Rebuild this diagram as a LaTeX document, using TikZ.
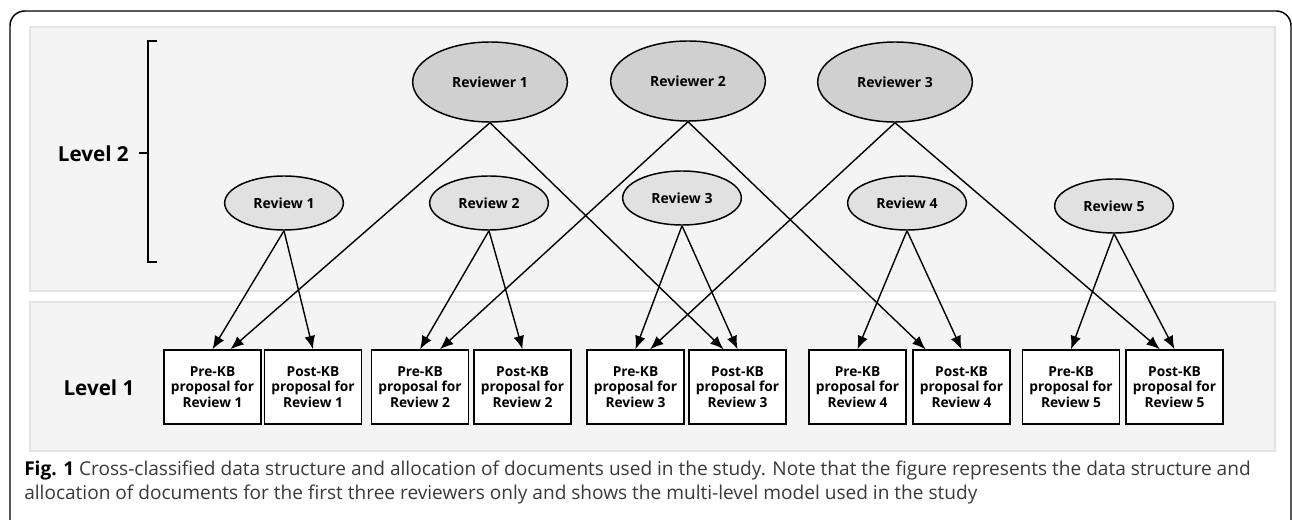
\documentclass[tikz,border=0pt]{standalone}
\usepackage{fontspec}
\setmainfont{Open Sans}
\usetikzlibrary{arrows.meta,shapes.geometric}
\definecolor{panel}{HTML}{F4F4F4}
\definecolor{panelline}{HTML}{E3E3E3}
\definecolor{rvrfill}{HTML}{D0D0D0}
\definecolor{rvfill}{HTML}{E1E1E1}
\definecolor{captxt}{HTML}{3A3A3A}
\begin{document}
\begin{tikzpicture}[x=0.75pt,y=-0.75pt,
  reviewer/.style={ellipse,draw,line width=1.1pt,fill=rvrfill,minimum width=116pt,minimum height=60pt,inner sep=0pt,font=\bfseries\fontsize{10.5}{12}\selectfont},
  review/.style={ellipse,draw,line width=1.1pt,fill=rvfill,minimum width=89pt,minimum height=40.5pt,inner sep=0pt,font=\bfseries\fontsize{10.5}{12}\selectfont},
  doc/.style={rectangle,draw,line width=1.1pt,fill=white,minimum width=72.5pt,minimum height=55.5pt,inner sep=0pt,align=center,font=\bfseries\fontsize{10.3}{11.6}\selectfont},
  arr/.style={-{Latex[length=10pt,width=8pt]},line width=1.05pt},
  lvl/.style={font=\bfseries\fontsize{15.5}{18}\selectfont},
  pnl/.style={fill=panel,draw=panelline,line width=1.5pt}
]
\useasboundingbox (0,0) rectangle (1292,520);
\fill[white] (0,0) rectangle (1292,520);
\begin{scope}
\clip (0,0) rectangle (1292,520);
\draw[line width=1.1pt,rounded corners=11pt] (10,11) rectangle (1291,560);
\end{scope}
% panels
\draw[pnl] (30,27) rectangle (1275,291);
\draw[pnl] (30,302) rectangle (1275,451);
% bracket
\coordinate (bt) at (157,41);
\coordinate (bb) at (157,262);
\coordinate (bm) at (139,153);
\draw[line width=0.8pt] (bt) -- (148,41) -- (148,262) -- (bb);
\draw[line width=0.8pt] (148,153) -- (bm);
\node[lvl,anchor=east,inner sep=0pt] (L2) at (129,154) {Level 2};
\node[lvl] (L1) at (99,388) {Level 1};
% documents
\node[doc] (b1) at (212.5,387) {Pre-KB\\proposal for\\Review 1};
\node[doc] (b2) at (313,387) {Post-KB\\proposal for\\Review 1};
\node[doc] (b3) at (420,387) {Pre-KB\\proposal for\\Review 2};
\node[doc] (b4) at (522.5,387) {Post-KB\\proposal for\\Review 2};
\node[doc] (b5) at (635.5,387) {Pre-KB\\proposal for\\Review 3};
\node[doc] (b6) at (737.5,387) {Post-KB\\proposal for\\Review 3};
\node[doc] (b7) at (857.5,387) {Pre-KB\\proposal for\\Review 4};
\node[doc] (b8) at (961.5,387) {Post-KB\\proposal for\\Review 4};
\node[doc] (b9) at (1071,387) {Pre-KB\\proposal for\\Review 5};
\node[doc] (b10) at (1174.5,387) {Post-KB\\proposal for\\Review 5};
% ellipses
\node[reviewer] (R1) at (490,82) {Reviewer 1};
\node[reviewer] (R2) at (688,81) {Reviewer 2};
\node[reviewer] (R3) at (895,82) {Reviewer 3};
\node[review] (r1) at (284,203) {Review 1};
\node[review] (r2) at (489,203) {Review 2};
\node[review] (r3) at (682,198) {Review 3};
\node[review] (r4) at (907,203) {Review 4};
\node[review] (r5) at (1114,206) {Review 5};
% connectors
\draw[arr] (r1.south) -- (b1.north);
\draw[arr] (r1.south) -- (b2.north);
\draw[arr] (r2.south) -- (b3.north);
\draw[arr] (r2.south) -- (b4.north);
\draw[arr] (r3.south) -- (b5.north);
\draw[arr] (r3.south) -- (b6.north);
\draw[arr] (r4.south) -- (b7.north);
\draw[arr] (r4.south) -- (b8.north);
\draw[arr] (r5.south) -- (b9.north);
\draw[arr] (r5.south) -- (b10.north);
\draw[arr] (R1.south) -- ([xshift=13.5pt]b1.north);
\draw[arr] (R1.south) -- ([xshift=-10.5pt]b6.north);
\draw[arr] (R2.south) -- ([xshift=15pt]b3.north);
\draw[arr] (R2.south) -- ([xshift=-27pt]b8.north);
\draw[arr] (R3.south) -- ([xshift=11pt]b5.north);
\draw[arr] (R3.south) -- ([xshift=-11pt]b10.north);
% caption
\node[anchor=base west,inner sep=0pt,font=\fontsize{14.3}{18}\selectfont,text=captxt] (cap1) at (24,475) {\textbf{\color{black}Fig. 1} Cross-classified data structure and allocation of documents used in the study. Note that the figure represents the data structure and};
\node[anchor=base west,inner sep=0pt,font=\fontsize{14.3}{18}\selectfont,text=captxt] (cap2) at (24,499) {allocation of documents for the first three reviewers only and shows the multi-level model used in the study};
\end{tikzpicture}
\end{document}
